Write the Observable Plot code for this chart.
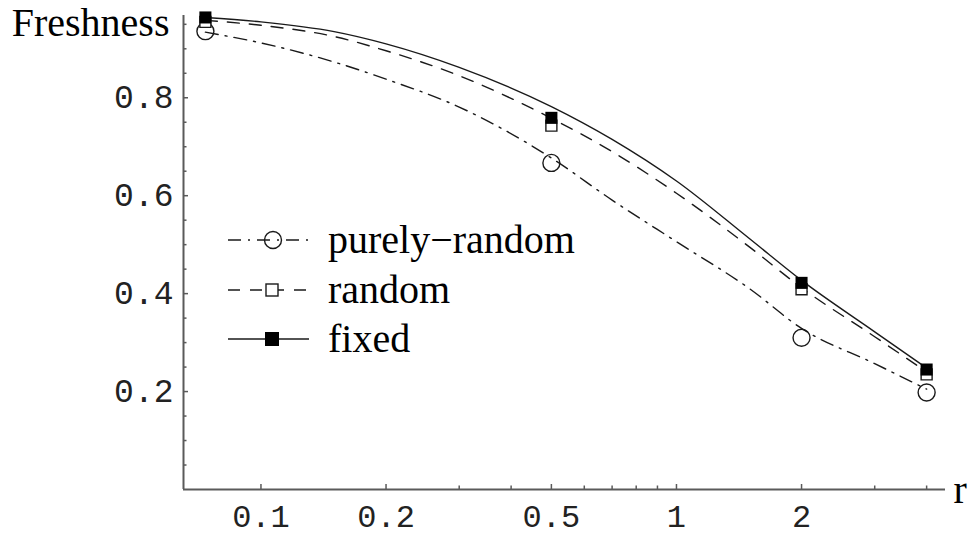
<!DOCTYPE html>
<html><head><meta charset="utf-8">
<script src="https://cdn.jsdelivr.net/npm/d3@7"></script>
<script src="https://cdn.jsdelivr.net/npm/@observablehq/plot@0.6"></script>
<style>
html,body{margin:0;padding:0;background:#fff;}
#chart{position:relative;width:969px;height:537px;overflow:hidden;}
#legend{position:absolute;left:0;top:0;}
</style></head><body><div id="chart"></div>
<script>
// ---- data ----
const seriesNames = ["purely-random", "random", "fixed"];
const legendLabels = ["purely\u2212random", "random", "fixed"];
const pointR = [0.0735, 0.5, 2, 4];
const pointsPurely = [0.936, 0.667, 0.310, 0.198];
const pointsRandom = [0.955, 0.743, 0.409, 0.235];
const pointsFixed  = [0.964, 0.759, 0.422, 0.245];
const curveR       = [0.0735, 0.1, 0.15, 0.2, 0.3, 0.5, 0.7, 1, 1.5, 2, 3, 4];
const curvePurely  = [0.934, 0.912, 0.873, 0.838, 0.781, 0.677, 0.591, 0.506, 0.410, 0.329, 0.257, 0.205];
const curveRandom  = [0.958, 0.948, 0.925, 0.896, 0.845, 0.758, 0.690, 0.605, 0.495, 0.412, 0.312, 0.240];
const curveFixed   = [0.964, 0.955, 0.935, 0.910, 0.862, 0.782, 0.715, 0.630, 0.512, 0.427, 0.322, 0.248];
const xMajorTicks = [0.1, 0.2, 0.5, 1, 2];
const xMinorTicks = [0.3, 0.4, 0.6, 0.7, 0.8, 0.9, 3, 4];
const yMajorTicks = [0.2, 0.4, 0.6, 0.8];
const yMinorTicks = [0.05, 0.1, 0.15, 0.25, 0.3, 0.35, 0.45, 0.5, 0.55, 0.65, 0.7, 0.75, 0.85, 0.9, 0.95];
const xDomain = [0.0651, 4.441];
const yDomain = [0, 0.968];
const xTitle = "r";
const yTitle = "Freshness";

// ---- layout / style ----
const W = 969, H = 537;
const mL = 183, mR = 24, mT = 15, mB = 48;
const plotW = W - mL - mR, plotH = H - mT - mB;
const axisColor = "#5a5a5a";
const lineColor = "#1a1a1a";
const dashes = {"purely-random": "13,7,2,7", "random": "12,10", "fixed": null};
const monoFont = "Liberation Mono, Courier New, monospace";
const serifFont = "Liberation Serif, Times New Roman, serif";

const toRows = (xs, ys) => xs.map((x, i) => ({x, y: ys[i]}));
const curves = {"purely-random": toRows(curveR, curvePurely), "random": toRows(curveR, curveRandom), "fixed": toRows(curveR, curveFixed)};
const pts = {"purely-random": toRows(pointR, pointsPurely), "random": toRows(pointR, pointsRandom), "fixed": toRows(pointR, pointsFixed)};

const chart = Plot.plot({
  width: W, height: H,
  marginLeft: mL, marginRight: mR, marginTop: mT, marginBottom: mB,
  x: {type: "log", domain: xDomain},
  y: {domain: yDomain},
  style: {background: "white", overflow: "visible"},
  marks: [
    // axis lines
    Plot.ruleY([yDomain[0]], {stroke: axisColor, strokeWidth: 2}),
    Plot.ruleX([xDomain[0]], {stroke: axisColor, strokeWidth: 2}),
    // inward ticks
    Plot.ruleX(xMajorTicks, {x: d => d, insetTop: plotH - 5, stroke: axisColor, strokeWidth: 1.5}),
    Plot.ruleX(xMinorTicks, {x: d => d, insetTop: plotH - 3.5, stroke: axisColor, strokeWidth: 1.5}),
    Plot.ruleY(yMajorTicks, {y: d => d, insetRight: plotW - 5, stroke: axisColor, strokeWidth: 1.5}),
    Plot.ruleY(yMinorTicks, {y: d => d, insetRight: plotW - 3.5, stroke: axisColor, strokeWidth: 1.5}),
    // tick labels
    Plot.axisX(xMajorTicks, {tickSize: 0, tickPadding: 15, fontSize: 32, fontFamily: monoFont, fill: "#222", label: null, tickFormat: d => String(d)}),
    Plot.axisY(yMajorTicks, {tickSize: 0, tickPadding: 10, fontSize: 33, fontFamily: monoFont, fill: "#222", label: null, tickFormat: d => String(d)}),
    // titles
    Plot.text([yTitle], {frameAnchor: "top-left", lineAnchor: "middle", text: d => d, dx: -14, dy: 8, textAnchor: "end", fontSize: 40, fontFamily: serifFont, fill: "#000"}),
    Plot.text([xTitle], {frameAnchor: "bottom-right", lineAnchor: "middle", text: d => d, dx: 8, dy: 1, textAnchor: "start", fontSize: 40, fontFamily: serifFont, fill: "#000"}),
    // curves
    ...seriesNames.map(s => Plot.line(curves[s], {x: "x", y: "y", curve: "monotone-x", stroke: lineColor, strokeWidth: 1.4, strokeDasharray: dashes[s]})),
    // points
    Plot.dot(pts["purely-random"], {x: "x", y: "y", r: 8.5, fill: "none", stroke: lineColor, strokeWidth: 1.4}),
    Plot.dot(pts["random"], {x: "x", y: "y", symbol: "square", r: 6.2, fill: "white", stroke: lineColor, strokeWidth: 1.4}),
    Plot.dot(pts["fixed"], {x: "x", y: "y", symbol: "square", r: 6.8, fill: "#000", stroke: "none"})
  ]
});
const host = document.getElementById("chart");
host.appendChild(chart);

// ---- legend ----
const lg = d3.select(host).append("svg").attr("id", "legend").attr("width", W).attr("height", H);
const legY = [240, 290, 339];
seriesNames.forEach((s, i) => {
  const g = lg.append("g").attr("transform", `translate(0,${legY[i]})`);
  g.append("line").attr("x1", 228).attr("x2", 309).attr("y1", 0).attr("y2", 0)
    .attr("stroke", lineColor).attr("stroke-width", 1.4).attr("stroke-dasharray", dashes[s]);
  if (s === "purely-random") {
    g.append("circle").attr("cx", 273).attr("cy", 0).attr("r", 8.5).attr("fill", "none").attr("stroke", lineColor).attr("stroke-width", 1.4);
  } else if (s === "random") {
    g.append("rect").attr("x", 266).attr("y", -6).attr("width", 12).attr("height", 12).attr("fill", "white").attr("stroke", lineColor).attr("stroke-width", 1.4);
  } else {
    g.append("rect").attr("x", 265).attr("y", -7).attr("width", 14).attr("height", 14).attr("fill", "#000");
  }
  g.append("text").attr("x", 328).attr("y", 13).text(legendLabels[i])
    .attr("font-family", serifFont).attr("font-size", 40).attr("fill", "#000");
});
</script>
</body></html>
